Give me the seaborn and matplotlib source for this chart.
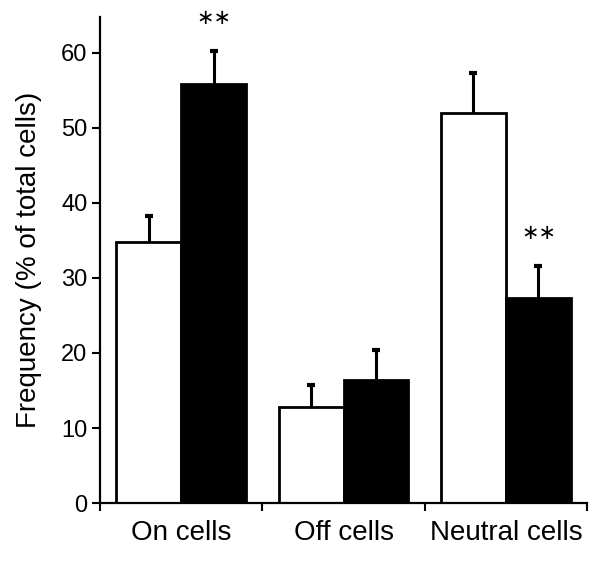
import pandas as pd
import seaborn as sns
import matplotlib.pyplot as plt

# Values
categories = ["On cells", "Off cells", "Neutral cells"]
groups = ["Control", "Treated"]
control = [34.8, 12.8, 52.0]
control_sem = [3.4, 3.0, 5.3]
treated = [55.9, 16.4, 27.3]
treated_sem = [4.3, 4.0, 4.3]
significant = [True, False, True]  # ** above treated bar

df = pd.DataFrame({
    "cell": categories * 2,
    "group": [groups[0]] * 3 + [groups[1]] * 3,
    "freq": control + treated,
    "sem": control_sem + treated_sem,
})

sns.set_style("ticks")
plt.rcParams["font.family"] = ["Liberation Sans", "DejaVu Sans"]
plt.rcParams["text.color"] = "black"
plt.rcParams["axes.labelcolor"] = "black"
plt.rcParams["xtick.color"] = "black"
plt.rcParams["ytick.color"] = "black"
plt.rcParams["axes.edgecolor"] = "black"

fig = plt.figure(figsize=(6.04, 5.65), dpi=100)
ax = fig.add_axes([0.1656, 0.1097, 0.8064, 0.8603])

sns.barplot(data=df, x="cell", y="freq", hue="group", order=categories,
            hue_order=groups, palette=["white", "black"], edgecolor="black",
            linewidth=2, width=0.8, errorbar=None, legend=False, ax=ax)

# error bars (upper only) and significance stars
for k, (bars, sems) in enumerate(zip(ax.containers, [control_sem, treated_sem])):
    for i, (patch, s) in enumerate(zip(bars, sems)):
        xc = patch.get_x() + patch.get_width() / 2
        h = patch.get_height()
        eb = ax.errorbar([xc], [h], yerr=[[0], [s]], fmt="none", ecolor="black",
                         elinewidth=2.2, capsize=3, capthick=3, zorder=3)
        eb[1][0].set_visible(False)  # hide the lower cap
        if k == 1 and significant[i]:
            ax.text(xc, h + s + 4.4, "\u2217\u2217", ha="center", va="center",
                    fontsize=15, family="DejaVu Sans", clip_on=False)

ax.set_xlim(-0.5, 2.5)
ax.set_ylim(0, 64.8)
ax.set_yticks(range(0, 61, 10))
ax.set_xticks([-0.5, 0.5, 1.5, 2.5])
ax.set_xticklabels([])
ax.set_xticks([0, 1, 2], minor=True)
ax.set_xticklabels(categories, minor=True)
ax.tick_params(axis="x", which="major", length=6, width=1.5, direction="out")
ax.tick_params(axis="x", which="minor", length=0, pad=12, labelsize=20)
ax.tick_params(axis="y", length=6, width=1.5, labelsize=17, pad=3)

ax.set_xlabel("")
ax.set_ylabel("Frequency (% of total cells)", fontsize=20, labelpad=14)
sns.despine(ax=ax)
for sp in ["left", "bottom"]:
    ax.spines[sp].set_linewidth(1.6)

fig.savefig("out.png", dpi=100)
